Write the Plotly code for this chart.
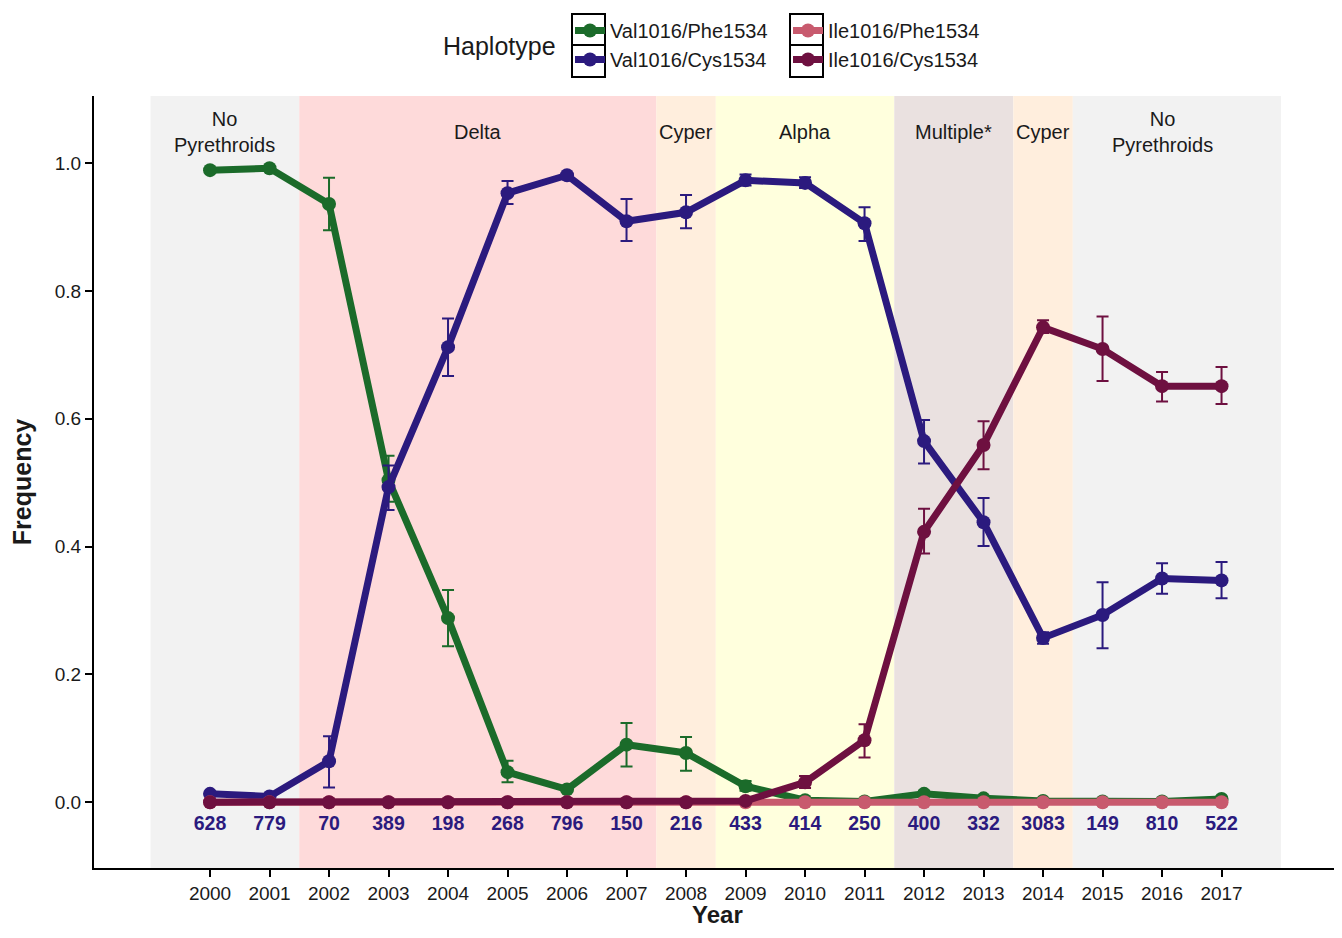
import plotly.graph_objects as go

# ---------------- data ----------------
years = list(range(2000, 2018))
sample_sizes = [628, 779, 70, 389, 198, 268, 796, 150, 216, 433, 414, 250, 400, 332, 3083, 149, 810, 522]

val_phe = [0.989, 0.992, 0.936, 0.504, 0.288, 0.047, 0.020, 0.090, 0.077, 0.025, 0.003, 0.001, 0.013, 0.006, 0.002, 0.001, 0.001, 0.005]
val_phe_lo = [None, None, 0.895, 0.470, 0.244, 0.031, None, 0.056, 0.049, 0.018, None, None, 0.008, None, None, None, None, None]
val_phe_hi = [None, None, 0.977, 0.542, 0.332, 0.065, None, 0.124, 0.102, 0.033, None, None, 0.018, None, None, None, None, None]

val_cys = [0.013, 0.009, 0.064, 0.493, 0.712, 0.953, 0.981, 0.909, 0.923, 0.973, 0.969, 0.906, 0.565, 0.438, 0.257, 0.293, 0.350, 0.347]
val_cys_lo = [None, None, 0.023, 0.457, 0.667, 0.936, None, 0.878, 0.898, 0.965, 0.961, 0.878, 0.530, 0.401, 0.248, 0.241, 0.326, 0.319]
val_cys_hi = [None, None, 0.103, 0.527, 0.757, 0.972, None, 0.944, 0.950, 0.982, 0.978, 0.931, 0.598, 0.476, 0.266, 0.344, 0.374, 0.376]

ile_phe = [0.0] * 18

ile_cys = [0.0, 0.0, 0.0, 0.0, 0.0, 0.0, 0.0, 0.0, 0.0, 0.002, 0.031, 0.097, 0.423, 0.559, 0.743, 0.709, 0.651, 0.651]
ile_cys_lo = [None] * 10 + [0.022, 0.070, 0.389, 0.521, 0.734, 0.659, 0.627, 0.623]
ile_cys_hi = [None] * 10 + [0.041, 0.122, 0.459, 0.596, 0.754, 0.760, 0.673, 0.681]

band_starts = [1999.0, 2001.5, 2007.5, 2008.5, 2011.5, 2013.5, 2014.5]
band_ends = [2001.5, 2007.5, 2008.5, 2011.5, 2013.5, 2014.5, 2018.0]
band_label_x = [2000.25, 2004.5, 2008.0, 2010.0, 2012.5, 2014.0, 2016.0]
band_labels = ["No<br>Pyrethroids", "Delta", "Cyper", "Alpha", "Multiple*", "Cyper", "No<br>Pyrethroids"]
band_colors = ["#F2F2F2", "#FEDADA", "#FFEEDD", "#FFFFDD", "#EAE1E0", "#FFEEDD", "#F2F2F2"]

# ---------------- layout constants ----------------
# page body has an 8px default margin; size figure so the page fits the window
OFF = 8
W, H = 1326, 922
ML, MR, MT, MB = 86, 0, 88, 62
PW, PH = W - ML - MR, H - MT - MB
SCR_L, SCR_B = ML + OFF, MT + OFF + PH   # screen coords of plot left / bottom


def px_x(px):
    return (px - SCR_L) / PW


def px_y(py):
    return (SCR_B - py) / PH


FONT = "Liberation Sans, Arial, sans-serif"
TXT = "#1a1a1a"


def err(vals, lo, hi):
    plus = [None if h is None else h - v for v, h in zip(vals, hi)]
    minus = [None if l is None else v - l for v, l in zip(vals, lo)]
    return plus, minus


fig = go.Figure()

series = [
    ("Val1016/Phe1534", val_phe, val_phe_lo, val_phe_hi, "#1B6B2A", "legend", 1),
    ("Val1016/Cys1534", val_cys, val_cys_lo, val_cys_hi, "#2B1A7E", "legend", 2),
    ("Ile1016/Phe1534", ile_phe, None, None, "#C85A6E", "legend2", 3),
    ("Ile1016/Cys1534", ile_cys, ile_cys_lo, ile_cys_hi, "#6E1040", "legend2", 4),
]

for name, vals, lo, hi, color, leg, rank in series:
    kw = {}
    if lo is not None:
        plus, minus = err(vals, lo, hi)
        kw["error_y"] = dict(type="data", symmetric=False, array=plus, arrayminus=minus,
                             color=color, thickness=2, width=6)
    fig.add_trace(go.Scatter(
        x=years, y=vals, name=name, mode="lines+markers",
        line=dict(color=color, width=7),
        marker=dict(color=color, size=14),
        legend=leg, legendrank=rank,
        **kw,
    ))

# sample size labels
fig.add_trace(go.Scatter(
    x=years, y=[-0.036] * len(years), mode="text",
    text=[str(n) for n in sample_sizes],
    textfont=dict(family=FONT, size=19.5, color="#2B1A7E", weight="bold"),
    showlegend=False, hoverinfo="skip",
))

shapes = []
annotations = []
for s, e, col in zip(band_starts, band_ends, band_colors):
    shapes.append(dict(type="rect", xref="x", yref="paper", x0=s, x1=e, y0=0, y1=1,
                       fillcolor=col, line=dict(width=0), layer="below"))
for lx, lab in zip(band_label_x, band_labels):
    annotations.append(dict(x=lx, y=1.048, xref="x", yref="y", text=lab,
                            showarrow=False, font=dict(family=FONT, size=20, color=TXT),
                            yanchor="middle"))

# legend key boxes
for bx0, bx1 in [(572, 605), (790, 823)]:
    for by0, by1 in [(14, 45), (45, 77)]:
        shapes.append(dict(type="rect", xref="paper", yref="paper",
                           x0=px_x(bx0), x1=px_x(bx1), y0=px_y(by1), y1=px_y(by0),
                           line=dict(color="black", width=2), fillcolor="rgba(0,0,0,0)"))

annotations.append(dict(x=px_x(558), y=px_y(46), xref="paper", yref="paper", text="Haplotype",
                        showarrow=False, xanchor="right", yanchor="middle",
                        font=dict(family=FONT, size=25, color=TXT)))

# x-axis title placed explicitly, kept inside the figure
annotations.append(dict(x=px_x(717), y=px_y(930), xref="paper", yref="paper", text="<b>Year</b>",
                        showarrow=False, xanchor="center", yanchor="bottom",
                        font=dict(family=FONT, size=24, color=TXT)))

leg_common = dict(xanchor="left", yanchor="top", orientation="v",
                  font=dict(family=FONT, size=20, color=TXT),
                  bgcolor="rgba(0,0,0,0)", itemwidth=30, tracegroupgap=0)

fig.update_layout(
    width=W, height=H,
    margin=dict(l=ML, r=MR, t=MT, b=MB, autoexpand=False),
    plot_bgcolor="white", paper_bgcolor="white",
    font=dict(family=FONT, size=18, color=TXT),
    shapes=shapes, annotations=annotations,
    legend=dict(x=px_x(570), y=px_y(11), **leg_common),
    legend2=dict(x=px_x(788), y=px_y(11), **leg_common),
    xaxis=dict(range=[1998.05, 2018.89], tickvals=years, ticktext=[str(y) for y in years],
               showgrid=False, zeroline=False, showline=True, linecolor="black", linewidth=2,
               ticks="outside", ticklen=7, tickwidth=1.5, tickcolor="black",
               tickfont=dict(family=FONT, size=19, color=TXT)),
    yaxis=dict(range=[-0.103, 1.105], tickvals=[0, 0.2, 0.4, 0.6, 0.8, 1.0], tickformat=".1f",
               showgrid=False, zeroline=False, showline=True, linecolor="black", linewidth=2,
               ticks="outside", ticklen=7, tickwidth=1.5, tickcolor="black",
               tickfont=dict(family=FONT, size=19, color=TXT),
               title=dict(text="<b>Frequency</b>", font=dict(family=FONT, size=25, color=TXT),
                          standoff=18)),
)

fig.write_html("out.html")
